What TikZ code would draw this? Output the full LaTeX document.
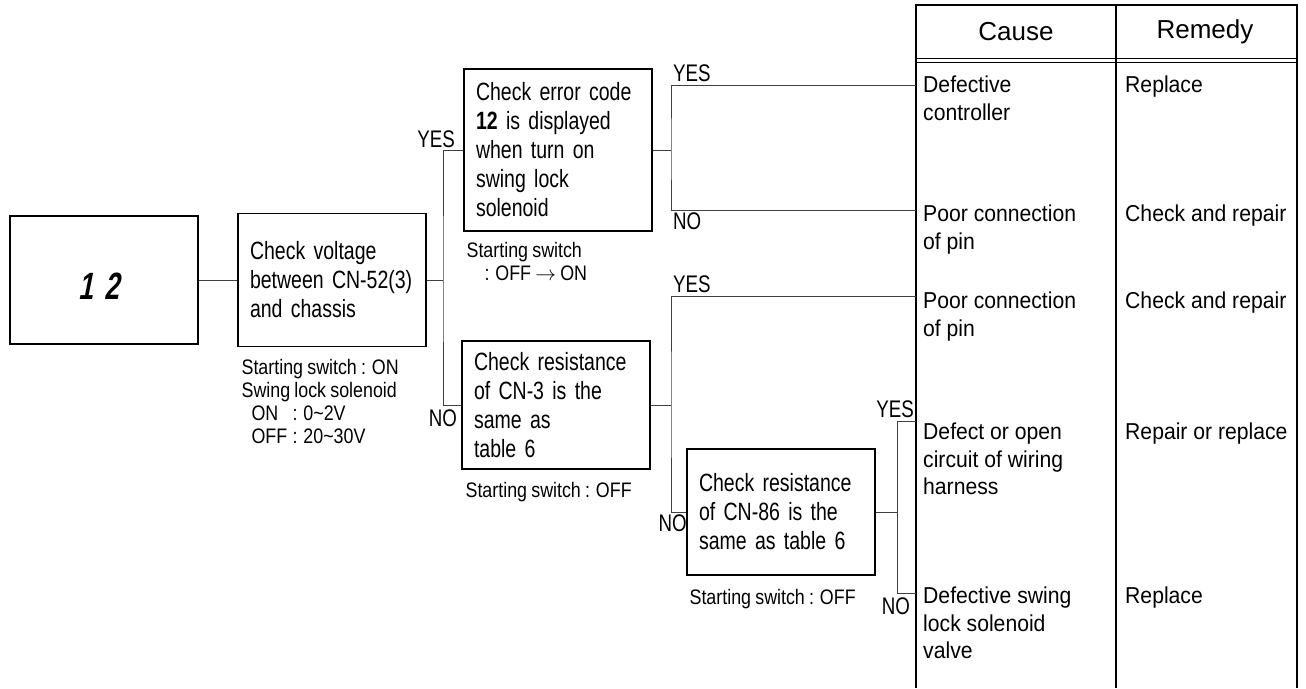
\documentclass[tikz,border=0pt]{standalone}
\usepackage{fontspec}
\setmainfont{Liberation Sans}
\newfontfamily\narrowfont{Liberation Sans}[FakeStretch=0.78, WordSpace=0.85]
\newfontfamily\notefont{Liberation Sans}[FakeStretch=0.85, WordSpace=0.85]
\newfontfamily\tablefont{Liberation Sans}[FakeStretch=0.92]
\newfontfamily\digitfont{Liberation Sans Bold}[FakeStretch=0.7, FakeSlant=0.2]
\usetikzlibrary{positioning}

\tikzset{
  chkbox/.style={draw, line width=1.2pt, inner xsep=12pt, inner ysep=0pt,
    minimum width=188pt, text width=164pt, align=left,
    font=\narrowfont\fontsize{25}{29}\selectfont},
  note/.style={anchor=north west, inner sep=0pt, align=left,
    font=\notefont\fontsize{21}{23}\selectfont},
  tag/.style={inner sep=1pt, font=\narrowfont\fontsize{24}{24}\selectfont},
  wire/.style={line width=0.9pt, black!75},
  cause/.style={anchor=north west, inner sep=0pt, align=left,
    font=\tablefont\fontsize{23}{27.5}\selectfont},
  head/.style={inner sep=0pt, font=\fontsize{26}{26}\selectfont}
}

\begin{document}
\begin{tikzpicture}[x=1pt, y=-1pt]
\useasboundingbox (0,0) rectangle (1306,688);

% cause / remedy table
\draw [line width=1.2pt] (916,688) -- (916,5) -- (1297,5) -- (1297,688);
\draw [line width=1.2pt] (1116,5) -- (1116,688);
\draw [line width=1pt] (916,58) -- (1297,58);
\draw [line width=1pt] (916,62) -- (1297,62);
\node [head] (hcause) at (1016,32) {Cause};
\node [head] (hremedy) at (1205,32) {Remedy};

\coordinate (in1) at (916,85);
\coordinate (in2) at (916,210);
\coordinate (in3) at (916,296);
\coordinate (in4) at (916,421);
\coordinate (in5) at (916,593);

\node [cause] (c1) at (923,76) {Defective\\controller};
\node [cause] (c2) at (923,205) {Poor connection\\of pin};
\node [cause] (c3) at (923,292) {Poor connection\\of pin};
\node [cause] (c4) at (923,423) {Defect or open\\circuit of wiring\\harness};
\node [cause] (c5) at (923,587) {Defective swing\\lock solenoid\\valve};

\node [cause] (r1) at (1125,76) {Replace};
\node [cause] (r2) at (1125,205) {Check and repair};
\node [cause] (r3) at (1125,292) {Check and repair};
\node [cause] (r4) at (1125,423) {Repair or replace};
\node [cause] (r5) at (1125,587) {Replace};

% check boxes
\node [draw, line width=1.2pt, minimum width=188pt, minimum height=128pt]
  (disp) at (104,280) {};
\node [font=\digitfont\fontsize{38}{38}\selectfont] (code) at (99,286)
  {1\hspace{12pt}2};

\node [chkbox, minimum height=133pt] (volt) at (332,280)
  {Check voltage\\between \mbox{CN-52(3)}\\and chassis};
\node [chkbox, minimum height=162pt] (err) at (558,150)
  {Check error code\\\textbf{12} is displayed\\when turn on\\swing lock\\solenoid};
\node [chkbox, minimum height=128pt] (cnthree) at (556,405)
  {Check resistance\\of CN-3 is the\\same as\\table 6};
\node [chkbox, minimum height=126pt] (cneightsix) at (781,512)
  {Check resistance\\of CN-86 is the\\same as table 6};

% conditions under the boxes
\node [note, below right=12pt and 4pt of volt.south west] (nvolt)
  {Starting switch : ON\\Swing lock solenoid\\
   \hspace*{10pt}\makebox[41pt][l]{ON}: 0\textasciitilde2V\\
   \hspace*{10pt}\makebox[41pt][l]{OFF}: 20\textasciitilde30V};
\node [note, below right=10pt and 3pt of err.south west] (nerr)
  {Starting switch\\\hspace*{18pt}: OFF $\rightarrow$ ON};
\node [note, below right=12pt and 4pt of cnthree.south west] (ncnthree)
  {Starting switch : OFF};
\node [note, below right=13pt and 3pt of cneightsix.south west] (ncneightsix)
  {Starting switch : OFF};

% connectors
\coordinate (jv) at (443,280);
\coordinate (je) at (671,150);
\coordinate (jc) at (671,405);
\coordinate (jn) at (897,512);

\draw [wire] (disp.east) -- (volt.west);
\draw [wire] (volt.east) -- (jv);
\draw [wire] (err.west) -| (jv) |- (cnthree.west);
\draw [wire] (err.east) -- (je);
\draw [wire] (in1) -| (je) |- (in2);
\draw [wire] (cnthree.east) -- (jc);
\draw [wire] (in3) -| (jc) |- (cneightsix.west);
\draw [wire] (cneightsix.east) -- (jn);
\draw [wire] (in4) -| (jn) |- (in5);

% yes / no marks
\node [tag, anchor=south east] (y1) at (456,149) {YES};
\node [tag, anchor=north] (n1) at (443,409) {NO};
\node [tag, anchor=south west] (y2) at (672,83) {YES};
\node [tag, anchor=north west] (n2) at (672,212) {NO};
\node [tag, anchor=south west] (y3) at (672,294) {YES};
\node [tag, anchor=north east] (n3) at (688,514) {NO};
\node [tag, anchor=south] (y4) at (895,419) {YES};
\node [tag, anchor=north] (n4) at (896,597) {NO};
\end{tikzpicture}
\end{document}
